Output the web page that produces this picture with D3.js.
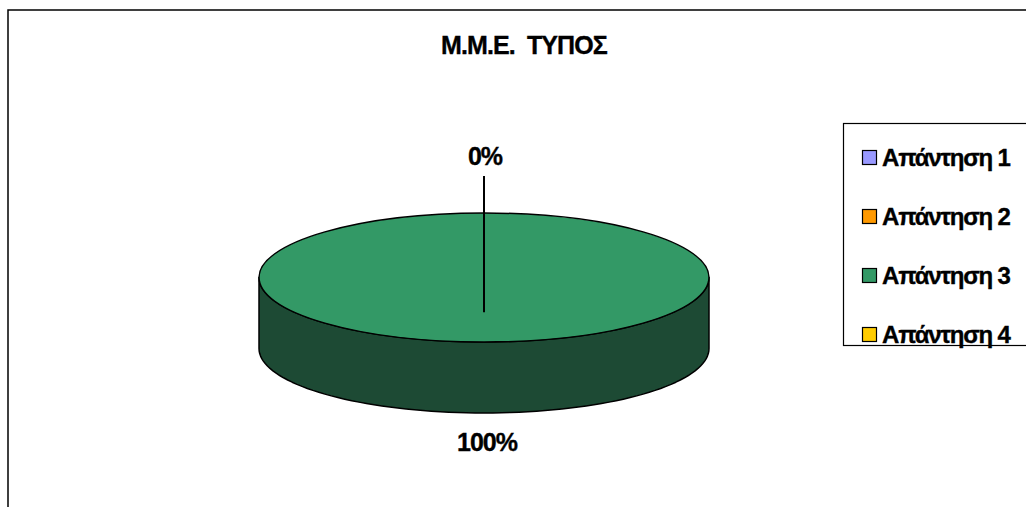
<!DOCTYPE html>
<html>
<head>
<meta charset="utf-8">
<script src="https://cdn.jsdelivr.net/npm/d3@7"></script>
<style>
  html, body { margin: 0; padding: 0; background: #fff; }
  svg { display: block; }
  text { font-family: "Liberation Sans", Arial, sans-serif; font-weight: bold; fill: #000; stroke: #000; stroke-width: 0.35px; }
</style>
</head>
<body>
<svg id="chart" width="1026" height="507"></svg>
<script>
// Answer categories and their counts for the "Μ.Μ.Ε. ΤΥΠΟΣ" question
const categories = ["Απάντηση 1", "Απάντηση 2", "Απάντηση 3", "Απάντηση 4"];
const values = [0, 0, 100, 0];
const topColors = ["#9999FF", "#FF9900", "#339966", "#FFCC00"];
const sideColors = ["#5c5c99", "#995c00", "#1d4a34", "#997a00"];
const title = "Μ.Μ.Ε.  ΤΥΠΟΣ";

const W = 1026, H = 507;
const svg = d3.select("#chart");

// outer chart frame
svg.append("rect")
  .attr("x", 8).attr("y", 10)
  .attr("width", W + 20).attr("height", H + 20)
  .attr("fill", "#fff").attr("stroke", "#000").attr("stroke-width", 1.5);

// title
svg.append("text")
  .attr("x", 524).attr("y", 54)
  .attr("text-anchor", "middle")
  .attr("font-size", 25)
  .attr("letter-spacing", -0.9)
  .style("white-space", "pre")
  .text(title);

// 3D pie geometry
const cx = 484, cy = 277.5, rx = 225, ry = 64.5, depth = 71;
const total = d3.sum(values);
const pct = d3.format(".0%");
const pie = d3.pie().sort(null).value(d => d)(values);
const pt = (a, dy = 0) => [cx + rx * Math.sin(a), cy - ry * Math.cos(a) + dy];

// side walls (only the front half, from 3 o'clock round to 9 o'clock)
const sideG = svg.append("g");
pie.forEach((s, i) => {
  const a0 = Math.max(s.startAngle, Math.PI / 2);
  const a1 = Math.min(s.endAngle, 3 * Math.PI / 2);
  if (a1 <= a0) return;
  const n = 80;
  const top = d3.range(n + 1).map(k => pt(a0 + (a1 - a0) * k / n));
  const bottom = top.slice().reverse().map(p => [p[0], p[1] + depth]);
  sideG.append("path")
    .attr("d", d3.line()(top.concat(bottom)) + "Z")
    .attr("fill", sideColors[i])
    .attr("stroke", "#000").attr("stroke-width", 1.5)
    .attr("stroke-linejoin", "round");
});

// top faces
const arc = d3.arc().innerRadius(0).outerRadius(rx);
svg.append("g")
  .attr("transform", `translate(${cx},${cy}) scale(1,${ry / rx})`)
  .selectAll("path")
  .data(pie.filter(s => s.endAngle > s.startAngle))
  .join("path")
  .attr("d", arc)
  .attr("fill", d => topColors[d.index])
  .attr("stroke", "#000").attr("stroke-width", 1.5)
  .attr("vector-effect", "non-scaling-stroke");

// percentage labels, one per distinct position
const seen = new Set();
pie.forEach(s => {
  const a = (s.startAngle + s.endAngle) / 2;
  const key = Math.round(Math.cos(a) * 1000) + "," + Math.round(Math.sin(a) * 1000);
  if (seen.has(key)) return;
  seen.add(key);
  const [x, yRim] = pt(a);
  const lower = Math.cos(a) < 0;
  const ly = lower ? yRim + depth + 38 : yRim - 48;
  svg.append("text")
    .attr("x", x + (lower ? 3 : 1)).attr("y", ly)
    .attr("text-anchor", "middle")
    .attr("font-size", 25)
    .attr("letter-spacing", -1)
    .text(pct(s.value / total));
  if (!lower && s.value === 0) {
    // leader line from the label down into the pie
    svg.append("line")
      .attr("x1", x).attr("x2", x)
      .attr("y1", ly + 11).attr("y2", cy + ry * 0.54)
      .attr("stroke", "#000").attr("stroke-width", 2);
  }
});

// legend
const lg = svg.append("g");
lg.append("rect")
  .attr("x", 843.5).attr("y", 123.5)
  .attr("width", 300).attr("height", 222)
  .attr("fill", "#fff").attr("stroke", "#000").attr("stroke-width", 1.2);
const ly = d3.scalePoint().domain(categories).range([157, 334]);
const items = lg.selectAll("g.item").data(categories).join("g")
  .attr("class", "item")
  .attr("transform", d => `translate(0,${ly(d)})`);
items.append("rect")
  .attr("x", 862.5).attr("y", -6.5).attr("width", 14).attr("height", 14)
  .attr("fill", (d, i) => topColors[i])
  .attr("stroke", "#000").attr("stroke-width", 1.2);
items.append("text")
  .attr("x", 882).attr("y", 9)
  .attr("font-size", 24)
  .attr("letter-spacing", -1.2)
  .text(d => d);
</script>
</body>
</html>
